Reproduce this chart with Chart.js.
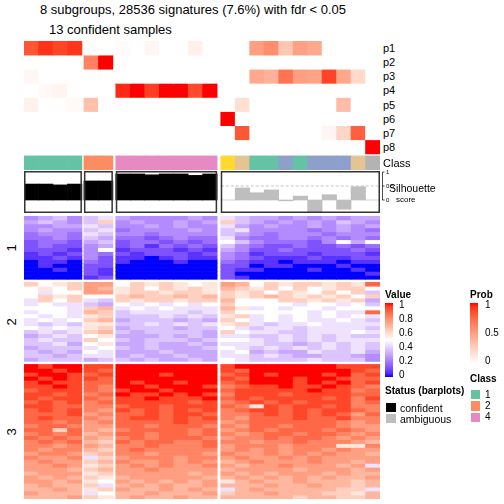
<!DOCTYPE html>
<html>
<head>
<meta charset="utf-8">
<script src="https://cdn.jsdelivr.net/npm/chart.js@4.4.1/dist/chart.umd.min.js"></script>
<style>
  html, body { margin: 0; padding: 0; background: #fff; }
  #page { position: relative; width: 504px; height: 504px; overflow: hidden;
          font-family: "Liberation Sans", Arial, Helvetica, sans-serif; color: #000; }
  #page canvas { position: absolute; }
  .t { position: absolute; white-space: nowrap; line-height: 1; }
  .box { position: absolute; box-sizing: border-box; }
</style>
</head>
<body>
<div id="page">
  <canvas id="annot" width="356" height="129" style="left:24px;top:41px"></canvas>
  <canvas id="sil" width="480" height="46" style="left:22px;top:169px"></canvas>
  <canvas id="heat" width="356" height="283" style="left:24px;top:216px"></canvas>
</div>
<script>
// ---- data ----
const groupSizes = [4, 2, 7, 11];
const sampleClass = [1, 1, 1, 1, 2, 2, 4, 4, 4, 4, 4, 4, 4, 6, 7, 1, 1, 3, 1, 3, 3, 3, 7, 8];

const probLabels = ['p1', 'p2', 'p3', 'p4', 'p5', 'p6', 'p7', 'p8'];
const p1 = [0.82, 0.93, 0.88, 0.92, 0, 0, 0.02, 0, 0.05, 0, 0, 0.08, 0, 0, 0, 0.5, 0.58, 0.3, 0.49, 0.45, 0, 0, 0, 0];
const p2 = [0, 0, 0, 0, 0.63, 1, 0, 0, 0, 0, 0, 0, 0, 0, 0, 0, 0, 0, 0, 0, 0, 0, 0, 0];
const p3 = [0.04, 0, 0, 0, 0, 0, 0, 0, 0, 0, 0, 0, 0, 0, 0, 0.45, 0.4, 0.7, 0.5, 0.48, 0.88, 0.46, 0.2, 0];
const p4 = [0, 0.03, 0.06, 0, 0, 0, 0.95, 1, 0.9, 1, 1, 0.86, 1, 0, 0, 0, 0, 0, 0, 0, 0, 0, 0, 0];
const p5 = [0.07, 0, 0, 0.03, 0.33, 0, 0, 0, 0, 0, 0, 0, 0, 0, 0.17, 0, 0, 0, 0, 0, 0, 0.35, 0, 0];
const p6 = [0, 0, 0, 0, 0, 0, 0, 0, 0, 0, 0, 0, 0, 1, 0, 0, 0, 0, 0, 0, 0, 0, 0, 0];
const p7 = [0, 0, 0, 0, 0, 0, 0, 0, 0, 0, 0, 0, 0, 0, 0.82, 0, 0, 0, 0, 0, 0.05, 0.22, 0.78, 0];
const p8 = [0, 0, 0, 0, 0, 0, 0, 0, 0, 0, 0, 0, 0, 0, 0, 0, 0, 0, 0, 0, 0, 0, 0, 1];

const silhouette = [0.57, 0.57, 0.54, 0.57, 0.68, 0.68, 0.93, 0.93, 0.9, 0.93, 0.93, 0.88, 0.93,
                    0, 0.43, 0.26, 0.36, -0.03, 0.14, -0.43, 0.19, -0.33, 0.475, 0];
const confident = [1, 1, 1, 1, 1, 1, 1, 1, 1, 1, 1, 1, 1, 0, 0, 0, 0, 0, 0, 0, 0, 0, 0, 0];
const silTicks = [0, 0.5, 1];

// heatmap values, one char per sample, 0..g = 0..1 in steps of 1/16 (8 = 0.5)
const slice1 = [
  '4564 67 5444454 76554545455',
  '5654 6a 4544545 a6545454654',
  '4455 76 4454544 75454454545',
  '4544 67 3444454 67444434543',
  '3443 76 4434444 65434443444',
  '3343 65 3323433 74334434343',
  '2332 56 2332323 86433324858',
  '2322 45 2313232 64322322323',
  '2221 48 1222121 54223222232',
  '1212 43 2122212 43122212221',
  '1121 42 1101211 43211121122',
  '0110 32 1000100 32110111011',
  '0100 22 0000000 22011000100',
  '0010 21 0000000 21100010010',
  '0000 21 0000000 20000000001',
  '0000 12 0000000 21000000000'
];
const slice2 = [
  'a89a cc 8a9a989 cb8a9aa9a9e',
  '898a cb 9a8a9a9 ba9a8a89aa8',
  '8788 cc 9aa9aa9 a9a8a98a8a6',
  '8a9a 88 abaabab a9aba9a9a8a',
  '7a8a 76 a9aa9aa b888aa9a9a5',
  '7877 65 8787878 a8888788786',
  '8887 ab 7878777 b9787887888',
  '7887 ba 6777767 a888887877e',
  '8787 9a 6667676 9a787878787',
  '7878 ab 5666565 a8787877876',
  '7676 99 6676767 9a767787777',
  '8787 9a 5666566 87677677776',
  '6767 ab 6566665 a8776677787',
  '5676 89 5556565 77667676766',
  '6766 a8 6566656 88767676777',
  '6675 89 5565565 77766567676',
  '5666 78 6565556 87676767676',
  '6565 87 5556555 78565576675',
  '6656 77 5655655 77676556654',
  '5666 56 6565565 87666676664'
];
const slice3 = [
  'gfgg ff ggggggg fgggggggfff',
  'ggfg fe ggggggg fegggggggfe',
  'fggf ef gggfggg efgfgggfgef',
  'gfgf fe ggggggg fegggfggfee',
  'fgff ee gfggfgg efgggfgfgef',
  'ffgf ed ggfgggf deffgffgfed',
  'efff ed fggfggg efffffgffde',
  'ffef de gffgfgf dfffeffffee',
  'feff ed ffgfffg efeffffefdf',
  'efef de fffffef defefefffde',
  'ffee dd effefff ed9feffefdd',
  'efef dc fefefef deffefeffed',
  'eeef cd eefeffe ddefefefece',
  'efee dc effefef dceeefeefdd',
  'eede cd eeeefee cdeeeeeedcd',
  'deed cc eedeeed dceedeeedcc',
  'eeae cb deeeede cdedeeededc',
  'dede bc eedeede dcdeedeedcd',
  'eded cb dedeeed cddedeedcdc',
  'dede ba edeedde ddcddedddcb',
  'ddcd cb ddeddde cdddcddd99d',
  'dcdd ba deddddd cdcdcddcdcc',
  'cddc ab ddcdddc dccdcdcdccb',
  'dccd 7a cdddcdd cdccdcdcccc',
  'cdcc ab dccdcdc bcdcccdccbc',
  'ccdc 9a cdcdccd cbccdcccbc7',
  'cccb ab ccdcccc bccccbcccbc',
  'bccc 9a cccccbc cbcbcccbcbb',
  'cbcb a9 bcccccb bcbcbcbcbbc',
  'ccbc 98 cbcbcbc 9bcbbcbbbab',
  'bcbb a7 bcbcbbc bbbcbbcbbab',
  'bbcb 9a cbbcbcb 7bcbbbbbaa7',
  'cbbb 78 bbcbbbc abbcbbbaa9b',
  'bbbc a9 bcbbcbb bbbbbabbaab'
];
const sliceLabels = ['1', '2', '3'];
const valueTicks = [1, 0.8, 0.6, 0.4, 0.2, 0];
const probTicks = [1, 0.5, 0];
const legendClasses = [1, 2, 4];

// ---- colours ----
const classColors = { 1: '#66C2A5', 2: '#FC8D62', 3: '#8DA0CB', 4: '#E78AC3', 5: '#A6D854', 6: '#FFD92F', 7: '#E5C494', 8: '#B3B3B3' };

function toLab(hex) {
    const lin = c => { c /= 255; return c <= 0.04045 ? c / 12.92 : Math.pow((c + 0.055) / 1.055, 2.4); };
    const r = lin(parseInt(hex.slice(1, 3), 16)), g = lin(parseInt(hex.slice(3, 5), 16)), b = lin(parseInt(hex.slice(5, 7), 16));
    const f = t => t > 0.008856 ? Math.cbrt(t) : 7.787 * t + 16 / 116;
    const fx = f((0.4124 * r + 0.3576 * g + 0.1805 * b) / 0.95047);
    const fy = f(0.2126 * r + 0.7152 * g + 0.0722 * b);
    const fz = f((0.0193 * r + 0.1192 * g + 0.9505 * b) / 1.08883);
    return [116 * fy - 16, 500 * (fx - fy), 200 * (fy - fz)];
}
function fromLab([L, A, B]) {
    const fy = (L + 16) / 116, fx = fy + A / 500, fz = fy - B / 200;
    const inv = t => t * t * t > 0.008856 ? t * t * t : (t - 16 / 116) / 7.787;
    const X = 0.95047 * inv(fx), Y = inv(fy), Z = 1.08883 * inv(fz);
    const gam = c => {
        c = Math.min(1, Math.max(0, c));
        return Math.round(255 * (c <= 0.0031308 ? 12.92 * c : 1.055 * Math.pow(c, 1 / 2.4) - 0.055));
    };
    return `rgb(${gam(3.2406 * X - 1.5372 * Y - 0.4986 * Z)},${gam(-0.9689 * X + 1.8758 * Y + 0.0415 * Z)},${gam(0.0557 * X - 0.2040 * Y + 1.0570 * Z)})`;
}
const labBlue = toLab('#0000FF'), labWhite = toLab('#FFFFFF'), labRed = toLab('#FF0000');
const mix = (a, b, t) => a.map((v, i) => v + (b[i] - v) * t);
function heatColor(v) {
    return v <= 0.5 ? fromLab(mix(labBlue, labWhite, v / 0.5)) : fromLab(mix(labWhite, labRed, (v - 0.5) / 0.5));
}
function probColor(v) {
    return fromLab(mix(labWhite, labRed, v));
}

// ---- shared x layout (column slices with gaps) ----
const groupGaps = [0.14, 0.2, 0.25];
const colX = [];
const groupSpans = [];
let pos = 0;
groupSizes.forEach((n, g) => {
    if (g > 0) pos += groupGaps[g - 1];
    groupSpans.push([pos, pos + n]);
    for (let i = 0; i < n; i++) colX.push(pos + i + 0.5);
    pos += n;
});
const xMax = pos;

const xAxis = () => ({
    type: 'linear', display: false, min: 0, max: xMax, offset: false,
    ticks: { includeBounds: false, stepSize: 1000 }
});
const barStyle = { grouped: false, barPercentage: 1, categoryPercentage: 1, borderWidth: 0 };
const baseOptions = (yAxis, padding) => ({
    responsive: false,
    animation: false,
    devicePixelRatio: 1,
    events: [],
    layout: { padding },
    plugins: { legend: { display: false }, tooltip: { enabled: false } },
    scales: { x: xAxis(), y: yAxis }
});

// ---- top annotation: p1..p8 + Class ----
const probRows = [p1, p2, p3, p4, p5, p6, p7, p8];
const classRowStart = 8.14;
const annotDatasets = probRows.map((vals, r) => ({
    ...barStyle,
    data: colX.map(x => ({ x, y: [r, r + 1] })),
    backgroundColor: vals.map(probColor)
}));
annotDatasets.push({
    ...barStyle,
    data: colX.map(x => ({ x, y: [classRowStart, classRowStart + 1] })),
    backgroundColor: sampleClass.map(c => classColors[c])
});
new Chart(document.getElementById('annot'), {
    type: 'bar',
    data: { datasets: annotDatasets },
    options: baseOptions({ type: 'linear', display: false, min: 0, max: classRowStart + 1, reverse: true }, 0)
});

// ---- silhouette barplot ----
const silhouetteFrame = {
    id: 'silhouetteFrame',
    beforeDatasetsDraw(chart) {
        const { ctx, scales } = chart;
        const yHalf = scales.y.getPixelForValue(0.5);
        ctx.save();
        ctx.strokeStyle = '#c4c4c4';
        ctx.lineWidth = 1;
        ctx.setLineDash([3, 2]);
        groupSpans.forEach(([a, b]) => {
            ctx.beginPath();
            ctx.moveTo(scales.x.getPixelForValue(a), yHalf);
            ctx.lineTo(scales.x.getPixelForValue(b), yHalf);
            ctx.stroke();
        });
        ctx.restore();
    },
    afterDatasetsDraw(chart) {
        const { ctx, chartArea, scales } = chart;
        ctx.save();
        ctx.strokeStyle = '#333';
        ctx.lineWidth = 1.5;
        groupSpans.forEach(([a, b]) => {
            const x0 = scales.x.getPixelForValue(a), x1 = scales.x.getPixelForValue(b);
            ctx.strokeRect(x0 + 0.75, chartArea.top + 0.75, x1 - x0 - 1.5, chartArea.bottom - chartArea.top - 1.5);
        });
        // small axis on the right
        const ax = chartArea.right + 2.5;
        ctx.strokeStyle = '#000';
        ctx.lineWidth = 0.7;
        ctx.beginPath();
        ctx.moveTo(ax, scales.y.getPixelForValue(0));
        ctx.lineTo(ax, scales.y.getPixelForValue(1));
        silTicks.forEach(t => {
            const y = scales.y.getPixelForValue(t);
            ctx.moveTo(ax, y);
            ctx.lineTo(ax + 2, y);
        });
        ctx.stroke();
        ctx.fillStyle = '#000';
        ctx.font = '6px "Liberation Sans", Arial, sans-serif';
        ctx.textBaseline = 'middle';
        silTicks.forEach(t => ctx.fillText(String(t), ax + 3.5, scales.y.getPixelForValue(t)));
        ctx.restore();
    }
};
new Chart(document.getElementById('sil'), {
    type: 'bar',
    data: {
        datasets: [{
            ...barStyle,
            data: colX.map((x, i) => ({ x, y: silhouette[i] })),
            backgroundColor: confident.map(c => c ? '#000000' : '#BEBEBE')
        }]
    },
    options: baseOptions({ type: 'linear', display: false, min: -0.464, max: 1.036 },
        { left: 2, right: 122, top: 2, bottom: 2 }),
    plugins: [silhouetteFrame]
});

// ---- main heatmap ----
const sliceGap = 0.75;
const heatDatasets = [];
const sliceCentres = [];
let rowPos = 0;
[slice1, slice2, slice3].forEach((rows, s) => {
    if (s > 0) rowPos += sliceGap;
    sliceCentres.push(rowPos + rows.length / 2);
    rows.forEach(str => {
        const vals = [...str.replace(/ /g, '')].map(ch => parseInt(ch, 17) / 16);
        const y0 = rowPos;
        heatDatasets.push({
            ...barStyle,
            data: colX.map(x => ({ x, y: [y0, y0 + 1] })),
            backgroundColor: vals.map(heatColor)
        });
        rowPos += 1;
    });
});
const heatMax = rowPos;
new Chart(document.getElementById('heat'), {
    type: 'bar',
    data: { datasets: heatDatasets },
    options: baseOptions({ type: 'linear', display: false, min: 0, max: heatMax, reverse: true }, 0)
});

// ---- text and legends ----
const page = document.getElementById('page');
function addText(str, x, y, size, opts = {}) {
    const d = document.createElement('div');
    d.className = 't';
    d.textContent = str;
    d.style.left = x + 'px';
    d.style.top = y + 'px';
    d.style.fontSize = size + 'px';
    if (opts.bold) d.style.fontWeight = 'bold';
    d.style.transform = opts.rotate ? 'translate(-50%,-50%) rotate(-90deg)' : 'translateY(-50%)';
    page.appendChild(d);
}
function addBox(x, y, w, h, background, border) {
    const d = document.createElement('div');
    d.className = 'box';
    Object.assign(d.style, { left: x + 'px', top: y + 'px', width: w + 'px', height: h + 'px', background });
    if (border) d.style.border = border;
    page.appendChild(d);
}

addText('8 subgroups, 28536 signatures (7.6%) with fdr < 0.05', 40, 9, 13);
addText('13 confident samples', 49, 29, 13);

const annotRowPx = 129 / (classRowStart + 1);
probLabels.forEach((lab, r) => addText(lab, 383, 41 + (r + 0.5) * annotRowPx, 11));
addText('Class', 383, 41 + (classRowStart + 0.5) * annotRowPx, 11);
addText('Silhouette', 389, 187.5, 10.5);
addText('score', 396, 199.5, 8);

const heatRowPx = 283 / heatMax;
sliceLabels.forEach((lab, s) => addText(lab, 11, 216 + sliceCentres[s] * heatRowPx, 13, { rotate: true }));

// Value legend
addText('Value', 385, 295, 10, { bold: true });
const valueStops = [];
for (let i = 0; i <= 20; i++) valueStops.push(`${heatColor(i / 20)} ${i * 5}%`);
addBox(385, 303, 8, 74, `linear-gradient(to top, ${valueStops.join(', ')})`);
valueTicks.forEach((t, i) => addText(String(t), 399, 305 + i * 14, 10));

// Status legend
addText('Status (barplots)', 385, 391, 10, { bold: true });
addBox(385, 402, 12, 11, '#000000', '1px solid #fff');
addBox(385, 413, 12, 11, '#BEBEBE', '1px solid #fff');
addText('confident', 400, 407.5, 10.5);
addText('ambiguous', 400, 418.5, 10.5);

// Prob legend
addText('Prob', 470, 295, 10, { bold: true });
const probStops = [];
for (let i = 0; i <= 20; i++) probStops.push(`${probColor(i / 20)} ${i * 5}%`);
addBox(470, 303, 8, 60, `linear-gradient(to top, ${probStops.join(', ')})`);
probTicks.forEach((t, i) => addText(String(t), 485, 305 + i * 28, 10));

// Class legend
addText('Class', 470, 379, 10, { bold: true });
legendClasses.forEach((c, i) => {
    addBox(470, 389 + i * 11.3, 11, 11.3, classColors[c], '1px solid #fff');
    addText(String(c), 485, 394.5 + i * 11.3, 10);
});
</script>
</body>
</html>
